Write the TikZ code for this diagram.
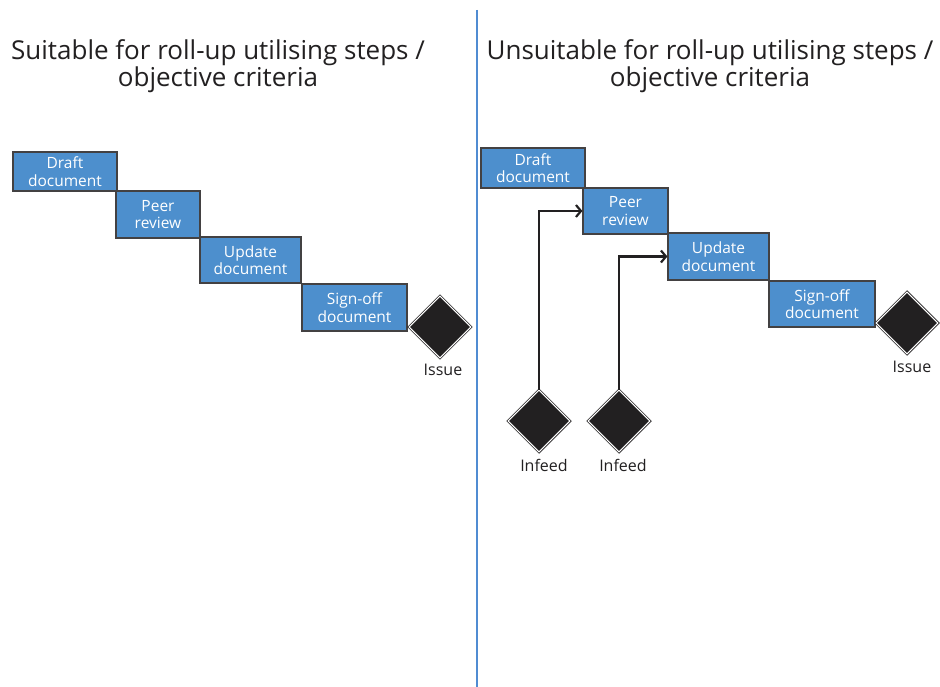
\documentclass[tikz,border=0pt]{standalone}
\usepackage{fontspec}
\setmainfont{Open Sans}
\usetikzlibrary{shapes.geometric,arrows.meta}
\definecolor{boxblue}{RGB}{77,143,205}
\definecolor{ink}{RGB}{34,32,33}
\definecolor{divider}{RGB}{80,140,210}
\tikzset{
  stepbox/.style={draw=ink!85,line width=1.2pt,fill=boxblue,text=white,align=center,
    inner sep=0pt,font=\fontsize{15.5}{17.5}\selectfont},
  gate/.style={diamond,fill=ink,draw=ink,line width=0.8pt,double=white,double distance=1.1pt,
    minimum width=62pt,minimum height=62pt,inner sep=0pt},
  lbl/.style={font=\fontsize{16}{18}\selectfont,text=ink},
  ttl/.style={font=\fontsize{26}{23}\selectfont,align=center,text=ink},
  flow/.style={draw=ink,line width=2.2pt,-{Straight Barb[length=5pt,width=12pt]}}
}
\begin{document}
\begin{tikzpicture}[x=1pt,y=-1pt]
\useasboundingbox (0,0) rectangle (940,687);
\fill[white] (0,0) rectangle (940,687);
% divider
\coordinate (dtop) at (477,10);
\coordinate (dbot) at (477,687);
\draw[divider,line width=1.4pt] (dtop) -- (dbot);
% titles
\node[ttl] (t1) at (218,66) {Suitable for roll-up utilising steps /\\objective criteria};
\node[ttl] (t2) at (710,66) {Unsuitable for roll-up utilising steps /\\objective criteria};
% left side
\node[stepbox,minimum width=104pt,minimum height=39pt] (l1) at (65,171.5) {Draft\\document};
\node[stepbox,minimum width=84pt,minimum height=47pt] (l2) at (158,214.5) {Peer\\review};
\node[stepbox,minimum width=101pt,minimum height=46pt] (l3) at (250.5,260) {Update\\document};
\node[stepbox,minimum width=105pt,minimum height=47pt] (l4) at (354.5,307.5) {Sign-off\\document};
\node[gate] (li) at (440,327) {};
\node[lbl] (lil) at (443,370) {Issue};
% right side
\node[stepbox,minimum width=104pt,minimum height=40pt] (r1) at (533,168) {Draft\\document};
\node[stepbox,minimum width=85pt,minimum height=46pt] (r2) at (625.5,211) {Peer\\review};
\node[stepbox,minimum width=101pt,minimum height=47pt] (r3) at (718.5,256.5) {Update\\document};
\node[stepbox,minimum width=106pt,minimum height=46pt] (r4) at (822,304) {Sign-off\\document};
\node[gate] (ri) at (907,323) {};
\node[lbl] (ril) at (912,367) {Issue};
\node[gate] (f1) at (539,421) {};
\node[lbl] (f1l) at (544,465) {Infeed};
\node[gate] (f2) at (619,421) {};
\node[lbl] (f2l) at (623,465) {Infeed};
\draw[flow] (f1.north) |- (r2.west);
\draw[flow] (f2.north) |- (r3.west);
\end{tikzpicture}
\end{document}
